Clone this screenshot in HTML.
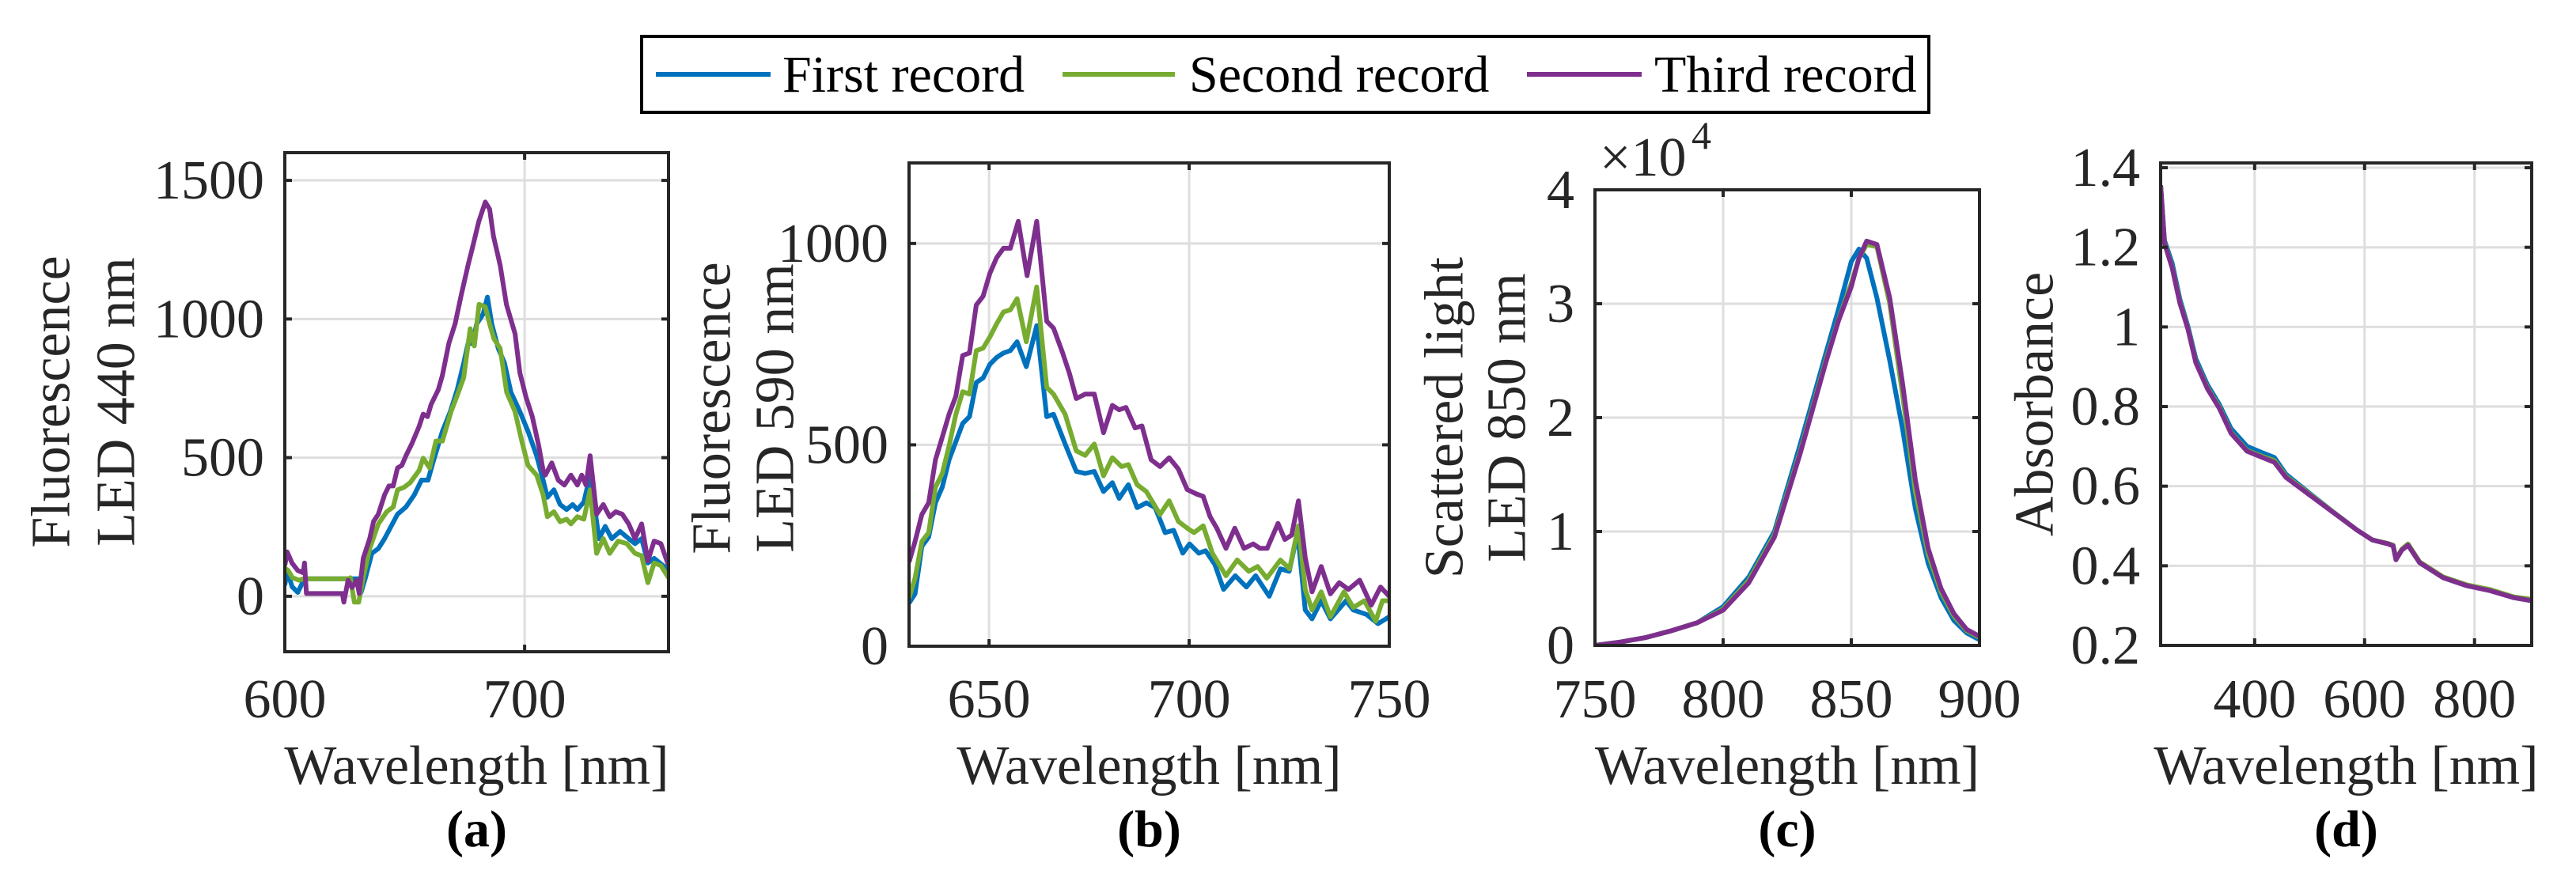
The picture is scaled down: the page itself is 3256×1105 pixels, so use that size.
<!DOCTYPE html>
<html><head><meta charset="utf-8"><style>
html,body{margin:0;padding:0;background:#fff;}
svg{display:block;font-family:"Liberation Serif","Times New Roman",serif;}
</style></head><body>
<svg id="fig" width="3256" height="1105" viewBox="0 0 3256 1105" xmlns="http://www.w3.org/2000/svg">
<rect width="3256" height="1105" fill="#fff"/>
<g>
<rect x="811" y="46" width="1627" height="96" fill="#fff" stroke="#000" stroke-width="4"/>
<g><line x1="829" y1="94" x2="974" y2="94" stroke="#0072BD" stroke-width="6"/><text x="989" y="116" font-size="66" fill="#000">First record</text></g>
<g><line x1="1343" y1="94" x2="1485" y2="94" stroke="#77AC30" stroke-width="6"/><text x="1503" y="116" font-size="66" fill="#000">Second record</text></g>
<g><line x1="1930" y1="94" x2="2075" y2="94" stroke="#7E2F8E" stroke-width="6"/><text x="2091" y="116" font-size="66" fill="#000">Third record</text></g>
</g>
</svg>
<script>
// ---- Panel (a) data: Fluorescence LED 440 nm ----
const aFirstX=[600,601,603,605.4,607.7,608.5,631,631.8,633.6,636.3,639,641.6,644.3,647,650.5,654,657,659.7,662,665.7,669,671.9,674.6,676.4,678.2,680,682.7,684.5,686.3,689,691.6,694.3,698,701.4,705,707.7,709.5,712.2,714.8,717.5,720,722,724.7,727.3,731,733.6,736.3,739.8,743.4,746,748.8,751.4,754,757.7,760];
const aFirstY=[40,93,35,14,55,63,63,14,67,155,172,208,252,296,322,366,419,419,489,595,666,745,841,912,912,982,1018,1079,982,894,841,736,666,595,507,419,357,384,331,313,331,313,340,437,208,252,208,234,208,190,208,120,137,111,93];
const aSecondX=[600,601.4,603.2,605.9,607.7,627,627.3,629,630.8,632.7,635.4,639,642.5,645.2,647,649.7,652.3,656,657.7,660.4,663,665.7,669.3,672,674.6,677.3,679,681,683.6,685.4,687.2,689.8,692.5,696,698.8,701.4,705,707.7,709.5,712.2,714.8,717.5,719.3,722,724.7,727.3,730,732.8,735.5,739,742.6,746,748.8,751.4,754,756.8,760];
const aSecondY=[102,93,67,58,63,63,67,-21,-21,67,172,261,305,322,384,393,410,454,498,463,560,560,666,727,789,965,903,1053,1044,982,929,894,736,666,560,472,437,366,287,305,269,278,261,287,278,384,155,208,155,199,190,155,146,49,120,111,67];
const aThirdX=[600,601,603,605.4,607.7,608.2,609,624,624.6,626.4,628,630,631,632.7,635.4,637,639,641.6,643.4,645.2,647,648.8,650.5,653,656,657.7,659.5,661,664,665.7,668.4,671,673.6,676.4,678.2,680.9,683.6,685.4,687,689.8,692.4,696,698,700.6,703.2,705.9,707.7,708.6,711.3,714,716.6,719.3,722,723.8,725.6,727.3,730,732.8,735.5,738,740.7,743.4,746,748.8,751.4,754,756.8,760];
const aThirdY=[111,160,120,93,85,120,10,10,-21,58,32,58,10,137,208,270,296,366,398,398,463,472,507,551,613,657,648,692,745,797,912,982,1088,1194,1255,1352,1422,1396,1299,1194,1053,947,806,718,648,542,454,437,481,419,401,437,401,437,401,507,296,331,287,305,296,261,208,261,128,199,190,111];
// ---- Panel (b) data: Fluorescence LED 590 nm ----
const bFirstX=[630,631.5,633.2,634.9,636.6,638.3,640,641.7,643.4,645.1,646.8,648.5,650.2,651.9,653.6,655.3,657,659.3,661.9,664.4,666.1,669,671.8,674,676.3,678.6,680.8,682.5,684.8,687,689.3,691.5,694,696.1,698.4,700.1,702.4,704.1,706.4,708.6,711.5,714.3,716.6,720,722.8,725,727.1,729,730.7,733,735.3,739.2,741,744.3,747.2,750];
const bFirstY=[107,130,248,271,356,395,463,508,553,570,655,666,700,717,728,734,756,694,796,570,576,502,434,429,434,384,406,367,401,344,356,344,282,288,231,254,231,237,203,141,175,147,175,124,192,186,282,90,68,113,68,113,90,79,56,73];
const bSecondX=[630,631.5,633.2,634.9,636.6,638.3,640,641.7,643.4,645.1,646.8,648.5,650.2,651.9,653.6,655.3,657,659.3,661.9,664.4,666.1,669,671.8,674,676.3,678.6,680.8,683.1,684.8,687,689.3,692.7,695,697.3,699.5,701.2,703.5,705.8,709.2,712,714.9,717.1,719.4,722.8,725.1,727.3,729,730.7,733,735.3,738.7,741,743.8,746.6,748.3,750];
const bSecondY=[119,169,260,282,395,429,497,576,632,626,734,740,768,801,830,835,863,756,892,643,626,576,485,474,502,423,468,446,451,401,384,327,361,310,293,282,299,231,175,214,186,198,169,214,192,299,141,90,135,73,135,96,113,62,113,113];
const bThirdX=[630,631.5,633.2,634.9,636.6,638.3,640,641.7,643.4,645.1,646.8,648.5,650.2,651.9,653.6,655.3,657.3,659.5,661.9,664.4,666.1,668.4,670.1,671.8,674,676.3,678.6,680.8,682.5,684.2,686.5,688.2,690.5,692.7,695,697.3,699.5,701.8,703.5,705.2,706.9,709.2,711.4,713.7,716,717.7,719.5,722.2,723.9,725.6,727.3,729,730.7,733,735.3,737.5,739.8,742.6,745.5,747.8,750];
const bThirdY=[209,260,327,356,463,519,576,621,722,728,847,869,926,965,988,988,1055,920,1055,807,790,728,677,615,626,626,530,598,587,593,542,547,463,446,468,440,389,378,372,322,293,243,293,243,254,243,243,305,265,276,361,220,135,198,130,158,141,164,102,147,124];
// ---- Panel (c) data: Scattered light LED 850 nm (x10^4) ----
const cWave=[750,760,770,780,790,800,810,820,830,840,845,850,853,856,860,865,870,875,880,885,890,895,900];
const cFirst=[0,0.03,0.07,0.13,0.2,0.34,0.6,1.0,1.76,2.56,2.95,3.37,3.48,3.4,3.05,2.5,1.9,1.2,0.72,0.42,0.22,0.11,0.05];
const cSecond=[0,0.03,0.07,0.13,0.2,0.32,0.57,0.97,1.7,2.5,2.86,3.18,3.4,3.52,3.5,3.0,2.2,1.35,0.8,0.47,0.26,0.13,0.07];
const cThird=[0,0.03,0.07,0.13,0.2,0.31,0.55,0.95,1.68,2.48,2.85,3.15,3.4,3.55,3.52,3.05,2.3,1.45,0.85,0.5,0.28,0.14,0.08];
// ---- Panel (d) data: Absorbance ----
const dWave=[229,236,250,264,279,293,314,336,357,386,414,436,457,500,543,586,614,643,652,657,668,679,700,743,786,829,871,904];
const dFirst=[1.356,1.217,1.16,1.07,1.0,0.92,0.855,0.805,0.745,0.7,0.684,0.672,0.63,0.582,0.535,0.49,0.465,0.455,0.45,0.418,0.44,0.452,0.408,0.37,0.35,0.338,0.32,0.312];
const dSecond=[1.356,1.212,1.15,1.063,0.995,0.912,0.848,0.798,0.735,0.69,0.675,0.664,0.625,0.58,0.535,0.49,0.465,0.456,0.452,0.418,0.442,0.455,0.41,0.372,0.352,0.34,0.322,0.316];
const dThird=[1.356,1.21,1.148,1.06,0.993,0.91,0.845,0.795,0.733,0.688,0.672,0.66,0.622,0.578,0.534,0.49,0.465,0.455,0.45,0.415,0.44,0.452,0.408,0.37,0.35,0.337,0.32,0.312];

const NS='http://www.w3.org/2000/svg';
const svg=document.getElementById('fig');
const COLORS=['#0072BD','#77AC30','#7E2F8E'];
function mk(tag,attrs,parent){const e=document.createElementNS(NS,tag);for(const k in attrs)e.setAttribute(k,attrs[k]);(parent||svg).appendChild(e);return e;}

function panel(o){
  const g=mk('g',{});
  
  
  const sx=v=>o.L+(v-o.x0)/(o.x1-o.x0)*(o.R-o.L);
  const sy=v=>o.B-(v-o.y0)/(o.y1-o.y0)*(o.B-o.T);
  o.xt.forEach(t=>{const l=mk('line',{x1:sx(t),x2:sx(t),y1:o.T,y2:o.B,stroke:'#dedede','stroke-width':3},g);
    
    });
  o.yt.forEach(t=>{const l=mk('line',{x1:o.L,x2:o.R,y1:sy(t),y2:sy(t),stroke:'#dedede','stroke-width':3},g);
    
    });
  const clip='clip-'+o.name;
  const cp=mk('clipPath',{id:clip},g);mk('rect',{x:o.L,y:o.T,width:o.R-o.L,height:o.B-o.T},cp);
  o.series.forEach((s,i)=>{
    const xs=s[0],ys=s[1];
    const d=xs.map((x,j)=>(j?'L':'M')+sx(x).toFixed(1)+' '+sy(ys[j]).toFixed(1)).join(' ');
    const p=mk('path',{d:d,fill:'none',stroke:COLORS[i],'stroke-width':6,'stroke-linejoin':'round','clip-path':'url(#'+clip+')'},g);
    
    
  });
  o.xt.forEach(t=>{mk('line',{x1:sx(t),x2:sx(t),y1:o.B,y2:o.B-9,stroke:'#262626','stroke-width':4},g);
    mk('line',{x1:sx(t),x2:sx(t),y1:o.T,y2:o.T+9,stroke:'#262626','stroke-width':4},g);});
  o.yt.forEach(t=>{mk('line',{x1:o.L,x2:o.L+9,y1:sy(t),y2:sy(t),stroke:'#262626','stroke-width':4},g);
    mk('line',{x1:o.R,x2:o.R-9,y1:sy(t),y2:sy(t),stroke:'#262626','stroke-width':4},g);});
  const box=mk('rect',{x:o.L,y:o.T,width:o.R-o.L,height:o.B-o.T,fill:'none',stroke:'#262626','stroke-width':4},g);
  
  
  o.xt.forEach((t,i)=>{const tx=mk('text',{x:sx(t),y:907,'font-size':70,'text-anchor':'middle',fill:'#262626'},g);tx.textContent=o.xl[i];
    
    });
  o.yt.forEach((t,i)=>{const tx=mk('text',{x:o.L-26,y:sy(t)+23,'font-size':70,'text-anchor':'end',fill:'#262626'},g);tx.textContent=o.yl[i];
    
    });
  const xl=mk('text',{x:(o.L+o.R)/2,y:991,'font-size':70,'text-anchor':'middle',fill:'#262626'},g);xl.textContent='Wavelength [nm]';
  
  
  o.ylab.forEach((s,i)=>{const cx=o.ylx[i],cy=o.yly;
    const tx=mk('text',{x:cx,y:cy,'font-size':70,'text-anchor':'middle',fill:'#262626','dominant-baseline':'central',transform:'rotate(-90 '+cx+' '+cy+')'},g);tx.textContent=s;
    
    });
  const cap=mk('text',{x:(o.L+o.R)/2,y:1070,'font-size':66,'font-weight':'bold','text-anchor':'middle',fill:'#000'},g);cap.textContent=o.cap;
  
  
}

panel({name:'panel-a',L:360,R:845,T:193,B:824,x0:600,x1:760,y0:-200,y1:1600,
  xt:[600,700],xl:['600','700'],yt:[0,500,1000,1500],yl:['0','500','1000','1500'],
  series:[[aFirstX,aFirstY],[aSecondX,aSecondY],[aThirdX,aThirdY]],
  ylab:['Fluorescence','LED 440 nm'],ylx:[65,147],yly:508,cap:'(a)'});
panel({name:'panel-b',L:1149,R:1756,T:206,B:817,x0:630,x1:750,y0:0,y1:1200,
  xt:[650,700,750],xl:['650','700','750'],yt:[0,500,1000],yl:['0','500','1000'],
  series:[[bFirstX,bFirstY],[bSecondX,bSecondY],[bThirdX,bThirdY]],
  ylab:['Fluorescence','LED 590 nm'],ylx:[900,980],yly:516,cap:'(b)'});
panel({name:'panel-c',L:2016,R:2502,T:240,B:816,x0:750,x1:900,y0:0,y1:4,
  xt:[750,800,850,900],xl:['750','800','850','900'],yt:[0,1,2,3,4],yl:['0','1','2','3','4'],
  series:[[cWave,cFirst],[cWave,cSecond],[cWave,cThird]],
  ylab:['Scattered light','LED 850 nm'],ylx:[1826,1905],yly:528,cap:'(c)'});
panel({name:'panel-d',L:2731,R:3200,T:206,B:816,x0:229,x1:904,y0:0.2,y1:1.412,
  xt:[400,600,800],xl:['400','600','800'],yt:[0.2,0.4,0.6,0.8,1,1.2,1.4],yl:['0.2','0.4','0.6','0.8','1','1.2','1.4'],
  series:[[dWave,dFirst],[dWave,dSecond],[dWave,dThird]],
  ylab:['Absorbance'],ylx:[2572],yly:511,cap:'(d)'});

const ex=mk('text',{x:2022,y:222,'font-size':70,fill:'#262626'});


ex.textContent='×10';
const sup=mk('text',{x:2138,y:188,'font-size':50,fill:'#262626'});


sup.textContent='4';
</script>
</body></html>
